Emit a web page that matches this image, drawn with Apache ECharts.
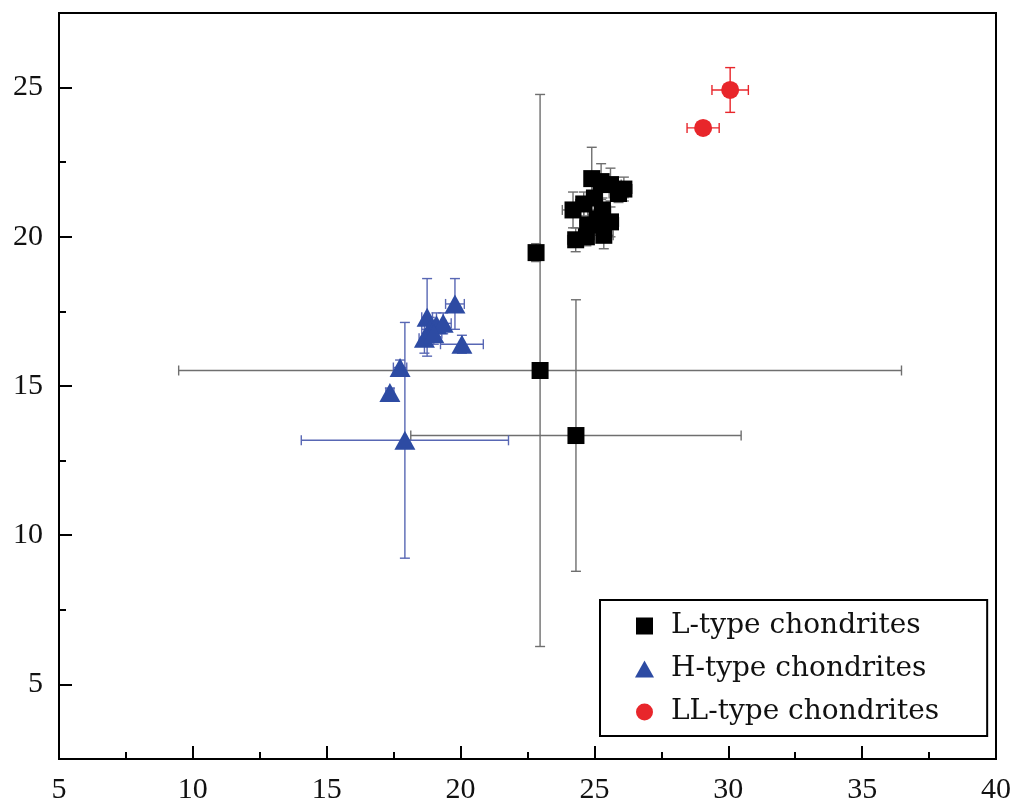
<!DOCTYPE html>
<html>
<head>
<meta charset="utf-8">
<title>chondrites</title>
<script src="https://cdn.jsdelivr.net/npm/echarts@6.0.0/dist/echarts.min.js"></script>
<style>
  html, body { margin: 0; padding: 0; background: #fff; }
  #main { width: 1015px; height: 805px; }
</style>
</head>
<body>
<div id="main"></div>
<script type="text/javascript">
// each point: [x, y, xError, yError]
var lType = [
  [22.82, 19.47, 0.15, 0.3],
  [22.97, 15.52, 13.5, 9.25],
  [24.31, 13.34, 6.17, 4.55],
  [24.9, 21.95, 0.2, 1.05],
  [25.25, 21.85, 0.3, 0.6],
  [25.6, 21.75, 0.4, 0.55],
  [26.1, 21.6, 0.3, 0.4],
  [25.9, 21.45, 0.35, 0.3],
  [24.2, 20.9, 0.4, 0.6],
  [24.6, 21.1, 0.3, 0.4],
  [25.0, 21.3, 0.3, 0.4],
  [25.3, 20.9, 0.3, 0.4],
  [25.1, 20.6, 0.3, 0.5],
  [24.75, 20.4, 0.3, 0.5],
  [24.3, 19.9, 0.3, 0.4],
  [25.35, 20.05, 0.35, 0.45],
  [25.6, 20.5, 0.3, 0.5],
  [24.7, 20.0, 0.25, 0.3]
];
var hType = [
  [17.92, 13.18, 3.87, 3.95],
  [17.36, 14.78, 0.15, 0.15],
  [17.74, 15.62, 0.25, 0.25],
  [18.75, 17.3, 0.2, 1.3],
  [18.65, 16.6, 0.2, 0.5],
  [18.85, 16.9, 0.3, 0.4],
  [19.1, 17.05, 0.35, 0.4],
  [19.35, 17.1, 0.3, 0.35],
  [19.0, 16.75, 0.3, 0.35],
  [19.79, 17.75, 0.35, 0.85],
  [20.05, 16.4, 0.8, 0.3]
];
var llType = [
  [30.07, 24.92, 0.68, 0.75],
  [29.06, 23.65, 0.6, 0.2]
];
var seriesNames = ['L-type chondrites', 'H-type chondrites', 'LL-type chondrites'];
var xTicks = [5, 10, 15, 20, 25, 30, 35, 40];
var yMajor = [5, 10, 15, 20, 25];
var yMinor = [7.5, 12.5, 17.5, 22.5];

var tickFont = '"Liberation Serif", "Times New Roman", serif';
var legendFont = '"DejaVu Serif", "Liberation Serif", serif';

// error bars drawn through the axes
function errorBars(color) {
  return function (params, api) {
    var x = api.value(0), y = api.value(1), ex = api.value(2), ey = api.value(3);
    var l = api.coord([x - ex, y]), r = api.coord([x + ex, y]);
    var t = api.coord([x, y + ey]), b = api.coord([x, y - ey]);
    var cap = 5;
    var st = { stroke: color, lineWidth: 1.4 };
    return {
      type: 'group',
      children: [
        { type: 'line', shape: { x1: l[0], y1: l[1], x2: r[0], y2: r[1] }, style: st },
        { type: 'line', shape: { x1: l[0], y1: l[1] - cap, x2: l[0], y2: l[1] + cap }, style: st },
        { type: 'line', shape: { x1: r[0], y1: r[1] - cap, x2: r[0], y2: r[1] + cap }, style: st },
        { type: 'line', shape: { x1: t[0], y1: t[1], x2: b[0], y2: b[1] }, style: st },
        { type: 'line', shape: { x1: t[0] - cap, y1: t[1], x2: t[0] + cap, y2: t[1] }, style: st },
        { type: 'line', shape: { x1: b[0] - cap, y1: b[1], x2: b[0] + cap, y2: b[1] }, style: st }
      ]
    };
  };
}

var myChart = echarts.init(document.getElementById('main'));
var option = {
  animation: false,
  backgroundColor: '#fff',
  grid: {
    left: 59, right: 19, top: 13, bottom: 45,
    show: true, borderColor: '#000', borderWidth: 2
  },
  legend: {
    orient: 'vertical',
    left: 600, top: 600,
    padding: [11, 48, 9, 35],
    itemGap: 13,
    itemWidth: 19, itemHeight: 17,
    borderColor: '#000', borderWidth: 2,
    selectedMode: false,
    textStyle: { fontFamily: legendFont, fontSize: 28, lineHeight: 30, color: '#111', padding: [0, 0, 0, 12] },
    data: [
      { name: seriesNames[0], icon: 'path://M0,0L10,0L10,10L0,10Z' },
      { name: seriesNames[1], icon: 'triangle' },
      { name: seriesNames[2], icon: 'circle' }
    ]
  },
  xAxis: {
    type: 'value',
    min: xTicks[0], max: xTicks[xTicks.length - 1], interval: 5,
    axisLine: { lineStyle: { color: '#000', width: 2 } },
    axisTick: { inside: true, length: 13, lineStyle: { color: '#000', width: 2 } },
    minorTick: { show: true, splitNumber: 2, length: 7, lineStyle: { color: '#000', width: 2 } },
    splitLine: { show: false },
    axisLabel: { margin: 16, fontFamily: tickFont, fontSize: 30, color: '#111' }
  },
  yAxis: [{
    type: 'value',
    min: 2.5, max: 27.5,
    axisLine: { lineStyle: { color: '#000', width: 2 } },
    axisTick: { inside: true, length: 13, customValues: yMajor, lineStyle: { color: '#000', width: 2 } },
    splitLine: { show: false },
    axisLabel: { margin: 16, customValues: yMajor, fontFamily: tickFont, fontSize: 30, color: '#111' }
  }, {
    type: 'value',
    position: 'left',
    min: 2.5, max: 27.5,
    axisLine: { show: false },
    axisTick: { inside: true, length: 7, customValues: yMinor, lineStyle: { color: '#000', width: 2 } },
    splitLine: { show: false },
    axisLabel: { show: false }
  }],
  series: [
    { type: 'custom', name: 'L-err', renderItem: errorBars('#6f6f6f'), data: lType, encode: { x: 0, y: 1 }, z: 1 },
    { type: 'custom', name: 'H-err', renderItem: errorBars('#5867b4'), data: hType, encode: { x: 0, y: 1 }, z: 1 },
    { type: 'custom', name: 'LL-err', renderItem: errorBars('#e8262b'), data: llType, encode: { x: 0, y: 1 }, z: 1 },
    { type: 'scatter', name: seriesNames[0], symbol: 'rect', symbolSize: 17, itemStyle: { color: '#000', opacity: 1 }, data: lType, encode: { x: 0, y: 1 }, z: 3 },
    { type: 'scatter', name: seriesNames[1], symbol: 'triangle', symbolSize: [21, 19], itemStyle: { color: '#2d4ba3', opacity: 1 }, data: hType, encode: { x: 0, y: 1 }, z: 3 },
    { type: 'scatter', name: seriesNames[2], symbol: 'circle', symbolSize: 18, itemStyle: { color: '#e8262b', opacity: 1 }, data: llType, encode: { x: 0, y: 1 }, z: 3 }
  ]
};
myChart.setOption(option);
</script>
</body>
</html>
